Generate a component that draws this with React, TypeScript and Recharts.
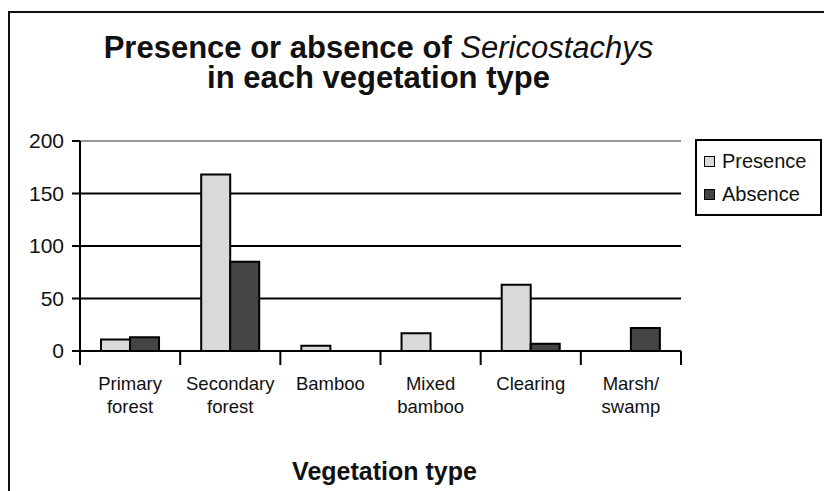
import React from "react"
import {
    BarChart,
    Bar,
    XAxis,
    YAxis,
    CartesianGrid,
    ReferenceLine,
    Legend,
} from "recharts"

const categories = [
    "Primary\nforest",
    "Secondary\nforest",
    "Bamboo",
    "Mixed\nbamboo",
    "Clearing",
    "Marsh/\nswamp",
]
const presence = [11, 168, 5, 17, 63, 0]
const absence = [13, 85, 0, 0, 7, 22]
const yTicks = [0, 50, 100, 150, 200]

const data = categories.map((name, i) => ({
    name,
    presence: presence[i],
    absence: absence[i],
}))

const FONT = "'Liberation Sans', Arial, sans-serif"
const PRESENCE_FILL = "#d9d9d9"
const ABSENCE_FILL = "#444444"

// excel-style ticks: marks sit on the category boundaries, text in the middle
function CategoryTick(props: any) {
    const { x, y, payload, index } = props
    const half = payload.offset ?? 50
    const lines = String(payload.value).split("\n")
    const last = index === categories.length - 1
    return (
        <g>
            <line x1={x - half} x2={x - half} y1={y} y2={y + 14} stroke="#000" strokeWidth={2} />
            {last && (
                <line x1={x + half} x2={x + half} y1={y} y2={y + 14} stroke="#000" strokeWidth={2} />
            )}
            {lines.map((l: string, i: number) => (
                <text
                    key={i}
                    x={x}
                    y={y + 39 + i * 23}
                    textAnchor="middle"
                    fontSize={18.5}
                    fontFamily={FONT}
                    fill="#111"
                >
                    {l}
                </text>
            ))}
        </g>
    )
}

function LegendBox() {
    const items = [
        { label: "Presence", fill: PRESENCE_FILL },
        { label: "Absence", fill: ABSENCE_FILL },
    ]
    return (
        <div
            style={{
                width: 123,
                height: 69,
                border: "2px solid #000",
                background: "#fff",
                fontFamily: FONT,
                fontSize: 20,
                color: "#111",
                boxSizing: "content-box",
                paddingTop: 4,
            }}
        >
            {items.map((it) => (
                <div
                    key={it.label}
                    style={{ display: "flex", alignItems: "center", height: 33, paddingLeft: 7 }}
                >
                    <span
                        style={{
                            display: "inline-block",
                            width: 9,
                            height: 9,
                            background: it.fill,
                            border: "1.5px solid #000",
                            marginRight: 7,
                        }}
                    />
                    {it.label}
                </div>
            ))}
        </div>
    )
}

export default function App() {
    return (
        <div
            style={{
                position: "absolute",
                left: 0,
                top: 0,
                width: 824,
                height: 491,
                background: "#fff",
                overflow: "hidden",
            }}
        >
            <div
                style={{
                    position: "absolute",
                    left: 8,
                    top: 11,
                    width: 830,
                    height: 500,
                    borderTop: "2px solid #111",
                    borderLeft: "2px solid #111",
                }}
            />
            <div
                style={{
                    position: "absolute",
                    left: 0,
                    top: 33,
                    width: 757,
                    textAlign: "center",
                    fontFamily: FONT,
                    fontSize: 31,
                    lineHeight: "30px",
                    fontWeight: "bold",
                    color: "#111",
                }}
            >
                Presence or absence of{" "}
                <span style={{ fontStyle: "italic", fontWeight: "normal" }}>Sericostachys</span>
                <br />
                in each vegetation type
            </div>
            <BarChart
                width={824}
                height={491}
                data={data}
                margin={{ top: 141, right: 143, bottom: 5, left: 20 }}
                barCategoryGap="21%"
                barGap={0}
                style={{ position: "absolute", left: 0, top: 0 }}
            >
                <CartesianGrid
                    vertical={false}
                    horizontalValues={[50, 100, 150]}
                    stroke="#000"
                    strokeWidth={2}
                />
                <ReferenceLine y={200} stroke="#777" strokeWidth={1.5} />
                <XAxis
                    dataKey="name"
                    height={135}
                    interval={0}
                    tickSize={0}
                    tickMargin={0}
                    tickLine={false}
                    axisLine={{ stroke: "#000", strokeWidth: 2 }}
                    tick={<CategoryTick />}
                    label={{
                        value: "Vegetation type",
                        position: "insideBottom",
                        offset: 6,
                        dx: 4,
                        style: { fontFamily: FONT, fontSize: 25, fontWeight: "bold", fill: "#111" },
                    }}
                />
                <YAxis
                    domain={[0, 200]}
                    ticks={yTicks}
                    width={60}
                    tickSize={8}
                    tickMargin={8}
                    axisLine={{ stroke: "#000", strokeWidth: 2 }}
                    tickLine={{ stroke: "#000", strokeWidth: 2 }}
                    tick={{ fontFamily: FONT, fontSize: 21, fill: "#111" }}
                />
                <YAxis
                    yAxisId="frame"
                    orientation="right"
                    domain={[0, 200]}
                    width={0}
                    tick={false}
                    tickLine={false}
                    axisLine={{ stroke: "#777", strokeWidth: 1.5 }}
                />
                <Legend
                    layout="vertical"
                    align="center"
                    verticalAlign="middle"
                    wrapperStyle={{ left: 695, top: 139, width: 127 }}
                    content={<LegendBox />}
                />
                <Bar
                    dataKey="presence"
                    name="Presence"
                    fill={PRESENCE_FILL}
                    stroke="#000"
                    strokeWidth={2}
                    isAnimationActive={false}
                />
                <Bar
                    dataKey="absence"
                    name="Absence"
                    fill={ABSENCE_FILL}
                    stroke="#000"
                    strokeWidth={2}
                    isAnimationActive={false}
                />
            </BarChart>
        </div>
    )
}
